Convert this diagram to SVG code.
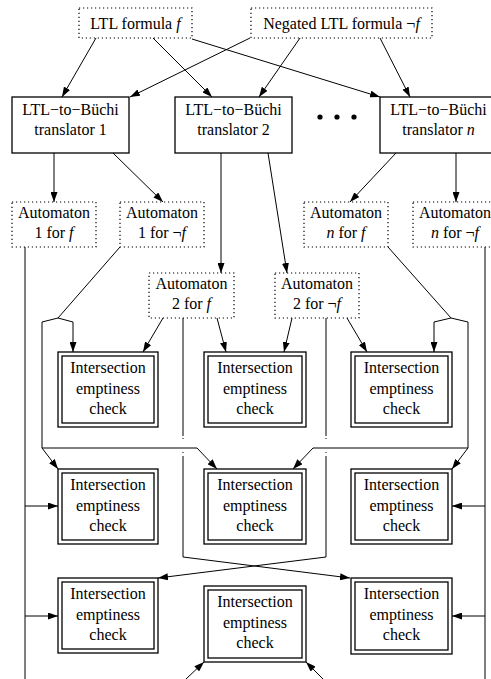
<svg xmlns="http://www.w3.org/2000/svg" width="491" height="679" viewBox="0 0 491 679" font-family="'Liberation Serif', 'Times New Roman', serif">
<defs>
<marker id="ah" viewBox="0 0 10 7" refX="10" refY="3.5" markerWidth="10" markerHeight="7" markerUnits="userSpaceOnUse" orient="auto"><path d="M0,0 L10,3.5 L0,7 z" fill="#000"/></marker>
</defs>
<style>
text{font-family:'Liberation Serif','Times New Roman',serif;font-size:16px;fill:#000;text-anchor:middle}
.it{font-style:italic}
.dot{fill:#fff;stroke:#000;stroke-width:1.2;stroke-dasharray:1.2 2.8}
.box{fill:#fff;stroke:#000;stroke-width:1.3}
.dbl{fill:none;stroke:#000;stroke-width:1.3}
.c{fill:none;stroke:#000;stroke-width:1}
.a{fill:none;stroke:#000;stroke-width:1;marker-end:url(#ah)}
</style>
<rect width="491" height="679" fill="#fff"/>
<g id="connectors">
<path class="a" d="M96,38 L62,97"/>
<path class="a" d="M153,38 L212,97"/>
<path class="a" d="M192,39 L380,97"/>
<path class="a" d="M250,38 L130,97"/>
<path class="a" d="M300,38 L259,97"/>
<path class="a" d="M380,38 L410,97"/>
<path class="a" d="M54,153 L54,202"/>
<path class="a" d="M113,153 L163,202"/>
<path class="a" d="M221,153 L221,273"/>
<path class="a" d="M268,153 L287,273"/>
<path class="a" d="M396,153 L350,202"/>
<path class="a" d="M456,153 L456,202"/>
<path class="c" d="M25,247 L25,679"/>
<path class="a" d="M25,506 L58,506"/>
<path class="a" d="M25,616 L58,616"/>
<path class="c" d="M485,247 L485,679"/>
<path class="a" d="M485,506 L452,506"/>
<path class="a" d="M485,616 L452,616"/>
<path class="c" d="M120,247 L58,318"/>
<path class="a" d="M42,448 L42,322 L58,318 L73,322 L73,352"/>
<path class="a" d="M42,448 L58,469"/>
<path class="a" d="M42,448 L197,448 L217,469"/>
<path class="a" d="M163,318 L143,352"/>
<path class="a" d="M217,318 L226,352"/>
<path class="a" d="M292,318 L284,352"/>
<path class="a" d="M347,318 L367,352"/>
<path class="c" d="M388,247 L451,318"/>
<path class="a" d="M468,448 L468,322 L451,318 L434,322 L434,352"/>
<path class="a" d="M468,448 L452,469"/>
<path class="a" d="M468,448 L313,448 L293,469"/>
<path class="c" d="M183,318 L183,436 M183,438 L183,439 M183,452 L183,453"/>
<path class="a" d="M183,456 L183,557 L350,578"/>
<path class="c" d="M326,318 L326,436 M326,438 L326,439 M326,452 L326,453"/>
<path class="a" d="M326,456 L326,557 L158,578"/>
<path class="a" d="M186,679 L204,662"/>
<path class="a" d="M323,679 L306,662"/>
</g>
<g id="ltl-formula">
<rect class="dot" x="79" y="8" width="113" height="30"/>
<text x="135.5" y="29">LTL formula  <tspan class="it">f</tspan></text>
</g>
<g id="negated-formula">
<rect class="dot" x="251" y="8" width="181" height="30"/>
<text x="341.5" y="29">Negated LTL formula  ¬<tspan class="it">f</tspan></text>
</g>
<g id="translator-1">
<rect class="box" x="12" y="97" width="117" height="56"/>
<text x="70.5" y="115">LTL−to−Büchi</text>
<text x="70.5" y="135">translator 1</text>
</g>
<g id="translator-2">
<rect class="box" x="175" y="97" width="117" height="56"/>
<text x="233.5" y="115">LTL−to−Büchi</text>
<text x="233.5" y="135">translator 2</text>
</g>
<g id="ellipsis">
<circle cx="320" cy="117" r="2.6"/>
<circle cx="337" cy="117" r="2.6"/>
<circle cx="354" cy="117" r="2.6"/>
</g>
<g id="translator-n">
<rect class="box" x="380" y="97" width="117" height="56"/>
<text x="438.5" y="115">LTL−to−Büchi</text>
<text x="438.5" y="135">translator  <tspan class="it">n</tspan></text>
</g>
<g id="automaton-1f">
<rect class="dot" x="12" y="202" width="84" height="45"/>
<text x="54" y="218">Automaton</text>
<text x="54" y="238">1 for  <tspan class="it">f</tspan></text>
</g>
<g id="automaton-1nf">
<rect class="dot" x="120" y="202" width="84" height="45"/>
<text x="162" y="218">Automaton</text>
<text x="162" y="238">1 for  ¬<tspan class="it">f</tspan></text>
</g>
<g id="automaton-nf">
<rect class="dot" x="304" y="202" width="84" height="45"/>
<text x="346" y="218">Automaton</text>
<text x="346" y="238"><tspan class="it">n</tspan>  for  <tspan class="it">f</tspan></text>
</g>
<g id="automaton-nnf">
<rect class="dot" x="413" y="202" width="84" height="45"/>
<text x="455" y="218">Automaton</text>
<text x="455" y="238"><tspan class="it">n</tspan>  for  ¬<tspan class="it">f</tspan></text>
</g>
<g id="automaton-2f">
<rect class="dot" x="149" y="273" width="85" height="45"/>
<text x="191.5" y="289">Automaton</text>
<text x="191.5" y="309">2 for  <tspan class="it">f</tspan></text>
</g>
<g id="automaton-2nf">
<rect class="dot" x="275" y="273" width="84" height="45"/>
<text x="317" y="289">Automaton</text>
<text x="317" y="309">2 for  ¬<tspan class="it">f</tspan></text>
</g>
<g id="check-r1c1">
<rect class="box" x="58" y="352" width="100" height="75"/><rect class="dbl" x="62" y="356" width="92" height="67"/>
<text x="108" y="373">Intersection</text><text x="108" y="394">emptiness</text><text x="108" y="414">check</text>
</g>
<g id="check-r1c2">
<rect class="box" x="204" y="352" width="102" height="75"/><rect class="dbl" x="208" y="356" width="94" height="67"/>
<text x="255" y="373">Intersection</text><text x="255" y="394">emptiness</text><text x="255" y="414">check</text>
</g>
<g id="check-r1c3">
<rect class="box" x="351" y="352" width="101" height="75"/><rect class="dbl" x="355" y="356" width="93" height="67"/>
<text x="401.5" y="373">Intersection</text><text x="401.5" y="394">emptiness</text><text x="401.5" y="414">check</text>
</g>
<g id="check-r2c1">
<rect class="box" x="58" y="469" width="100" height="75"/><rect class="dbl" x="62" y="473" width="92" height="67"/>
<text x="108" y="490">Intersection</text><text x="108" y="511">emptiness</text><text x="108" y="531">check</text>
</g>
<g id="check-r2c2">
<rect class="box" x="204" y="469" width="102" height="75"/><rect class="dbl" x="208" y="473" width="94" height="67"/>
<text x="255" y="490">Intersection</text><text x="255" y="511">emptiness</text><text x="255" y="531">check</text>
</g>
<g id="check-r2c3">
<rect class="box" x="351" y="469" width="101" height="75"/><rect class="dbl" x="355" y="473" width="93" height="67"/>
<text x="401.5" y="490">Intersection</text><text x="401.5" y="511">emptiness</text><text x="401.5" y="531">check</text>
</g>
<g id="check-r3c1">
<rect class="box" x="58" y="578" width="100" height="75"/><rect class="dbl" x="62" y="582" width="92" height="67"/>
<text x="108" y="599">Intersection</text><text x="108" y="620">emptiness</text><text x="108" y="640">check</text>
</g>
<g id="check-r3c2">
<rect class="box" x="204" y="586" width="102" height="76"/><rect class="dbl" x="208" y="590" width="94" height="68"/>
<text x="255" y="607">Intersection</text><text x="255" y="628">emptiness</text><text x="255" y="648">check</text>
</g>
<g id="check-r3c3">
<rect class="box" x="351" y="578" width="101" height="76"/><rect class="dbl" x="355" y="582" width="93" height="68"/>
<text x="401.5" y="599">Intersection</text><text x="401.5" y="620">emptiness</text><text x="401.5" y="640">check</text>
</g>
</svg>
